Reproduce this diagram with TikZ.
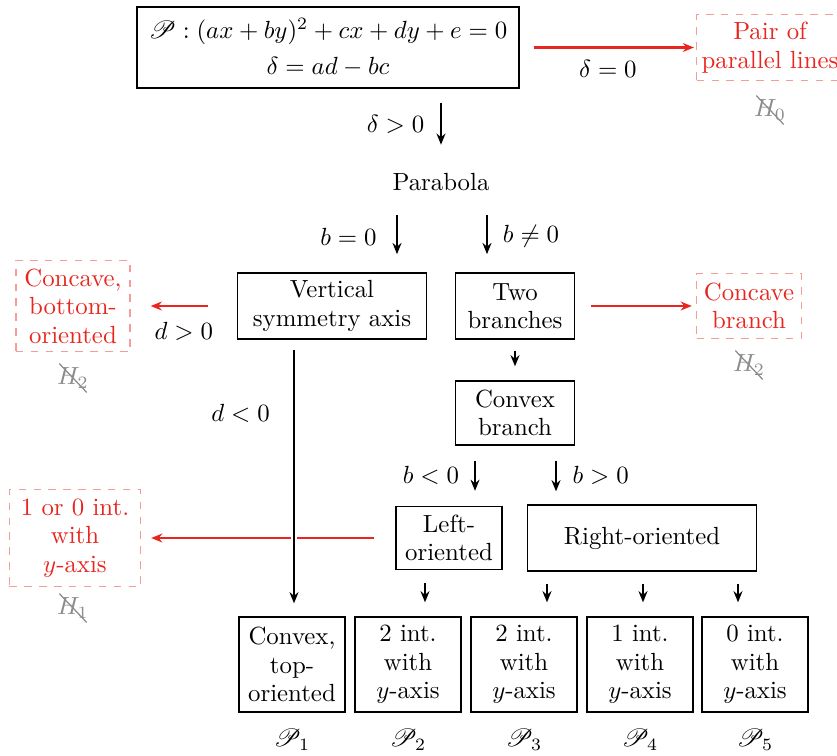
\documentclass[tikz,border=0pt]{standalone}
\usepackage{mathrsfs}
\usetikzlibrary{arrows.meta}
\definecolor{myred}{RGB}{232,37,30}
\tikzset{
  box/.style={draw, line width=0.6pt, align=center, inner sep=2pt, font=\fontsize{10}{11.5}\selectfont},
  dbox/.style={draw=myred!45, dashed, line width=0.6pt, text=myred, align=center, inner sep=2pt, font=\fontsize{10}{11.5}\selectfont},
  arr/.style={-{Stealth[length=4.5pt,width=3.6pt]}, line width=0.8pt},
  rarr/.style={arr, draw=myred, line width=0.9pt},
  hlab/.style={text=black!45, inner sep=0.8pt},
  strike/.style={draw=black!45, line width=0.5pt},
  plab/.style={inner sep=1pt}
}
\begin{document}
\begin{tikzpicture}[x=0.403pt,y=-0.403pt]
\useasboundingbox (0,0) rectangle (837,755);
% x coordinates for vertical connectors
\coordinate (x441) at (441,0);
\coordinate (x397) at (397,0);
\coordinate (x487) at (487,0);
\coordinate (x294) at (294,0);
\coordinate (x475) at (475,0);
\coordinate (x556) at (556,0);
\coordinate (x425) at (425,0);
\coordinate (x547) at (547,0);
\coordinate (x643) at (643,0);
\coordinate (x738) at (738,0);
% nodes
\node[box, minimum width=154pt, minimum height=32.6pt] (top) at (328,47.5) {$\mathscr{P}:(ax+by)^2+cx+dy+e=0$\\[3pt]$\delta=ad-bc$};
\node[dbox, minimum width=58.8pt, minimum height=26.6pt] (pair) at (770,47.5) {Pair of\\parallel lines};
\node[hlab] (h0) at (770,110) {$H_0$};
\node[inner sep=0pt] (parab) at (441,182) {Parabola};
\node[box, minimum width=76.2pt, minimum height=26.6pt] (vert) at (332,306) {Vertical\\symmetry axis};
\node[box, minimum width=48pt, minimum height=26.6pt] (two) at (515,306) {Two\\branches};
\node[dbox, minimum width=42.3pt, minimum height=26.2pt] (concave) at (749,306) {Concave\\branch};
\node[hlab] (h2r) at (749,365) {$H_2$};
\node[dbox, minimum width=46pt, minimum height=36.7pt] (concbot) at (73,306) {Concave,\\bottom-\\oriented};
\node[hlab] (h2l) at (73,378) {$H_2$};
\node[box, minimum width=48pt, minimum height=25.8pt] (convb) at (515,413) {Convex\\branch};
\node[box, minimum width=42.7pt, minimum height=25.4pt] (left) at (449,538) {Left-\\oriented};
\node[box, minimum width=92.3pt, minimum height=26.6pt] (right) at (642,538) {Right-oriented};
\node[dbox, minimum width=52.8pt, minimum height=39.1pt] (onezero) at (75,538) {1 or 0 int.\\with\\$y$-axis};
\node[hlab] (h1) at (73,608) {$H_1$};
\node[box, minimum width=42.7pt, minimum height=38.3pt] (p1) at (292,664.5) {Convex,\\top-\\oriented};
\node[box, minimum width=42.7pt, minimum height=38.3pt] (p2) at (408,664.5) {2 int.\\with\\$y$-axis};
\node[box, minimum width=42.7pt, minimum height=38.3pt] (p3) at (524,664.5) {2 int.\\with\\$y$-axis};
\node[box, minimum width=42.7pt, minimum height=38.3pt] (p4) at (640,664.5) {1 int.\\with\\$y$-axis};
\node[box, minimum width=42.7pt, minimum height=38.3pt] (p5) at (755,664.5) {0 int.\\with\\$y$-axis};
\node[plab] (l1) at (292,740) {$\mathscr{P}_1$};
\node[plab] (l2) at (408,740) {$\mathscr{P}_2$};
\node[plab] (l3) at (524,740) {$\mathscr{P}_3$};
\node[plab] (l4) at (640,740) {$\mathscr{P}_4$};
\node[plab] (l5) at (755,740) {$\mathscr{P}_5$};
% strike-throughs
\draw[strike] ([shift={(-5.5pt,5.8pt)}]h0.center) -- ([shift={(5.5pt,-5.8pt)}]h0.center);
\draw[strike] ([shift={(-5.5pt,5.8pt)}]h2r.center) -- ([shift={(5.5pt,-5.8pt)}]h2r.center);
\draw[strike] ([shift={(-5.5pt,5.8pt)}]h2l.center) -- ([shift={(5.5pt,-5.8pt)}]h2l.center);
\draw[strike] ([shift={(-5.5pt,5.8pt)}]h1.center) -- ([shift={(5.5pt,-5.8pt)}]h1.center);
% connectors
\draw[arr, shorten <=5.6pt, shorten >=11.3pt] (top.south -| x441) -- node[pos=0.43, left=3pt] {$\delta>0$} (parab.north -| x441);
\draw[rarr, shorten <=5.6pt, shorten >=0.8pt] (top.east) -- node[midway, below=1.5pt] {$\delta=0$} (pair.west);
\draw[arr, shorten <=9.7pt, shorten >=7.3pt] (parab.south -| x397) -- node[pos=0.56, left=4.5pt] {$b=0$} (vert.north -| x397);
\draw[arr, shorten <=9.7pt, shorten >=7.3pt] (parab.south -| x487) -- node[pos=0.56, right=2.7pt] {$b\neq0$} (two.north -| x487);
\draw[rarr, shorten <=6.4pt, shorten >=1.6pt] (two.east) -- (concave.west);
\draw[rarr, shorten <=11.7pt, shorten >=8pt] (vert.west) -- node[midway, below=2.7pt] {$d>0$} (concbot.east);
\draw[arr, shorten <=4.4pt, shorten >=5.6pt] (two.south) -- (convb.north);
\draw[arr, shorten <=6pt, shorten >=6pt] (convb.south -| x475) -- node[pos=0.5, left=2.7pt] {$b<0$} (left.north -| x475);
\draw[arr, shorten <=6pt, shorten >=5.2pt] (convb.south -| x556) -- node[pos=0.5, right=3pt] {$b>0$} (right.north -| x556);
\draw[rarr, shorten <=8.5pt, shorten >=4pt] (left.west) -- (onezero.east);
\draw[arr, shorten <=4pt, shorten >=5.2pt, preaction={draw=white, line width=2.6pt, -}] (vert.south -| x294) -- node[pos=0.266, left=6pt] {$d<0$} (p1.north -| x294);
\draw[arr, shorten <=5.2pt, shorten >=5.6pt] (left.south -| x425) -- (p2.north -| x425);
\draw[arr, shorten <=4.8pt, shorten >=5.6pt] (right.south -| x547) -- (p3.north -| x547);
\draw[arr, shorten <=4.8pt, shorten >=5.6pt] (right.south -| x643) -- (p4.north -| x643);
\draw[arr, shorten <=4.8pt, shorten >=5.6pt] (right.south -| x738) -- (p5.north -| x738);
\end{tikzpicture}
\end{document}
